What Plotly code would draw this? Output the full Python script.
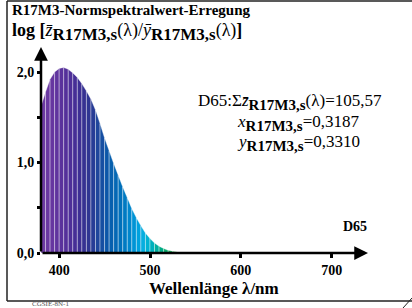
import plotly.graph_objects as go

# ---- data ----
wavelengths = [380, 385, 390, 395, 400, 405, 410, 415, 420, 425, 430, 435, 440, 445,
               450, 455, 460, 465, 470, 475, 480, 485, 490, 495, 500, 505, 510, 515,
               520, 525, 530, 535, 540]
values = [1.62, 1.78, 1.92, 2.00, 2.04, 2.05, 2.03, 1.99, 1.94, 1.87, 1.79, 1.70, 1.58, 1.43,
          1.27, 1.13, 0.99, 0.86, 0.73, 0.61, 0.49, 0.39, 0.30, 0.22, 0.16, 0.11, 0.075, 0.05,
          0.03, 0.02, 0.012, 0.007, 0.004]
band_colors = ["#6c3aa2", "#6a38a2", "#6636a0", "#60349e", "#5a329c", "#54309a", "#4e2f98",
               "#462e96", "#3e2f94", "#363192", "#2f3592", "#283c96", "#1f469c", "#164fa2",
               "#0c57a8", "#0760ae", "#0468b4", "#0070ba", "#007ac2", "#0086cc", "#0094d6",
               "#00a2de", "#06aee0", "#00b2d2", "#00b0bc", "#00ae9e", "#00aa84", "#06a86a",
               "#14a656", "#28a244", "#40a03a", "#56a034", "#66a030"]
x_ticks = [400, 500, 600, 700]
x_tick_labels = ["400", "500", "600", "700"]
y_ticks = [0, 0.5, 1.0, 1.5, 2.0]
y_tick_labels = ["0,0", " ", "1,0", " ", "2,0"]

W, H = 412, 308
L, R, T, B = 41, 44, 47, 55
PW, PH = W - L - R, H - T - B
SERIF = "Times New Roman, Liberation Serif, serif"


def px(x):
    return (x - L) / PW


def py(y):
    return (H - B - y) / PH


fig = go.Figure()
for i in range(len(wavelengths) - 1):
    w0, w1 = wavelengths[i], wavelengths[i + 1]
    v0, v1 = values[i], values[i + 1]
    fig.add_trace(go.Scatter(
        x=[w0, w0, w1, w1, w0], y=[0, v0, v1, 0, 0],
        mode="lines", fill="toself", fillcolor=band_colors[i],
        line=dict(color="rgba(255,255,255,0.45)", width=0.8),
        hoverinfo="skip", showlegend=False))

fig.update_layout(
    width=W, height=H,
    margin=dict(l=L, r=R, t=T, b=B, pad=0),
    paper_bgcolor="white", plot_bgcolor="white",
    showlegend=False,
    xaxis=dict(range=[380, 740], showgrid=False, zeroline=False, showline=False,
               tickvals=x_ticks, ticktext=x_tick_labels, ticks="outside",
               ticklen=4, tickwidth=2.5, tickcolor="black",
               tickfont=dict(family=SERIF, size=14, color="black", weight="bold")),
    yaxis=dict(range=[0, PH / 90.5], showgrid=False, zeroline=False, showline=False,
               tickvals=y_ticks, ticktext=y_tick_labels, ticks="outside",
               ticklen=3, tickwidth=2.5, tickcolor="black",
               tickfont=dict(family=SERIF, size=14, color="black", weight="bold")),
)

# axes with arrows
fig.add_annotation(x=740, y=0, ax=380, ay=0, xref="x", yref="y", axref="x", ayref="y",
                   showarrow=True, arrowhead=2, arrowsize=1.1, arrowwidth=2.5,
                   arrowcolor="black", text="")
fig.add_annotation(x=380, y=PH / 90.5, ax=380, ay=0, xref="x", yref="y", axref="x", ayref="y",
                   showarrow=True, arrowhead=2, arrowsize=1.1, arrowwidth=2.5,
                   arrowcolor="black", text="")

# frame
frame = dict(color="#222", width=1.5)
fig.add_shape(type="line", xref="paper", yref="paper", x0=px(7), x1=px(7), y0=py(1), y1=py(301), line=frame)
fig.add_shape(type="line", xref="paper", yref="paper", x0=px(7), x1=px(412), y0=py(1), y1=py(1), line=frame)
fig.add_shape(type="line", xref="paper", yref="paper", x0=px(7), x1=px(412), y0=py(301), y1=py(301), line=frame)
fig.add_shape(type="line", xref="paper", yref="paper", x0=px(403), x1=px(412), y0=py(308), y1=py(298),
              line=dict(color="#222", width=1))


def txt(x, y, s, size=15, anchor="left", bold=False, color="black"):
    fig.add_annotation(x=px(x), y=py(y), xref="paper", yref="paper", text=s,
                       showarrow=False, xanchor=anchor, yanchor="middle",
                       font=dict(family=SERIF, size=size, color=color,
                                 weight="bold" if bold else "normal"))


def sub(s, size=14):
    return f'<sub><span style="font-size:{size}px"><b>{s}</b></span></sub>'


txt(10, 10, "R17M3-Normspektralwert-Erregung", size=15, bold=True)
txt(10, 32, "<b>log [</b><i>z̄</i>" + sub("R17M3,s", 17) + "(λ)/<i>ȳ</i>" + sub("R17M3,s", 17) + "(λ)<b>]</b>",
    size=18)
txt(290, 102, "D65:Σ<i>z̄</i>" + sub("R17M3,s", 15) + "(λ)=105,57", size=17, anchor="center")
txt(298, 123, "<i>x</i>" + sub("R17M3,s", 15) + "=0,3187", size=17, anchor="center")
txt(298, 143, "<i>y</i>" + sub("R17M3,s", 15) + "=0,3310", size=17, anchor="center")
txt(355, 226, "D65", size=14, anchor="center", bold=True)
txt(214, 288, "Wellenlänge λ/nm", size=17, anchor="center", bold=True)
txt(30, 303.5, "CGSIE-8N-1", size=7, color="#555")

fig.write_html("out.html", config={"displayModeBar": False},
               post_script="document.body.style.margin='0';document.body.style.overflow='hidden';")
